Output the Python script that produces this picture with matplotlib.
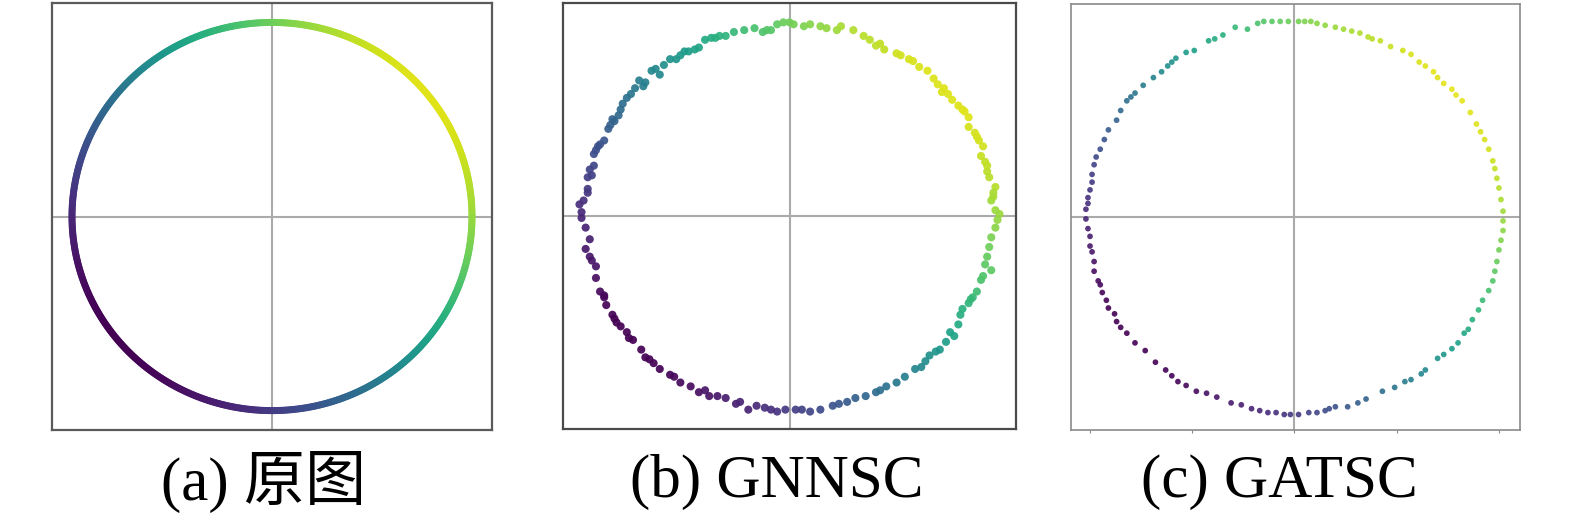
import numpy as np
import matplotlib
matplotlib.use("Agg")
import matplotlib.pyplot as plt

# ---------------- data ----------------
panel_labels = ["(a) 原图", "(b) GNNSC", "(c) GATSC"]

# (a) original data: points on the unit circle
orig_n_points = 720
orig_radius = 1.0

# (b) GNNSC embedding
gnnsc_x = [-1.01, -1.02, -1.00, -0.98, -0.98, -0.98, -0.96, -0.95, -0.95, -0.94,
           -0.92, -0.90, -0.88, -0.87, -0.85, -0.83, -0.82, -0.81, -0.77, -0.75,
           -0.71, -0.70, -0.67, -0.63, -0.61, -0.58, -0.55, -0.53, -0.49, -0.46,
           -0.44, -0.41, -0.38, -0.36, -0.31, -0.27, -0.22, -0.17, -0.13, -0.11,
           -0.06, -0.03, 0.00, 0.02, 0.07, 0.15, 0.18, 0.23, 0.25, 0.31,
           0.36, 0.39, 0.42, 0.46, 0.52, 0.54, 0.58, 0.63, 0.67, 0.70,
           0.72, 0.74, 0.77, 0.79, 0.82, 0.85, 0.87, 0.87, 0.90, 0.92,
           0.94, 0.93, 0.95, 0.96, 0.97, 1.00, 0.99, 0.98, 1.00, 1.02,
           -1.01, -0.99, -0.97, -0.99, -0.97, -0.94, -0.94, -0.92, -0.90, -0.89,
           -0.86, -0.84, -0.82, -0.79, -0.76, -0.72, -0.70, -0.66, -0.63, -0.58,
           -0.53, -0.48, -0.44, -0.39, -0.35, -0.31, -0.26, -0.20, -0.16, -0.12,
           -0.06, -0.02, 0.03, 0.10, 0.15, 0.21, 0.28, 0.32, 0.37, 0.42,
           0.47, 0.52, 0.56, 0.61, 0.66, 0.68, 0.73, 0.76, 0.78, 0.82,
           0.83, 0.84, 0.87, 0.89, 0.91, 0.93, 0.94, 0.98, 0.96, 0.97,
           0.98, 1.00, 1.01,
           -0.97, -0.93, -0.86, -0.79, -0.73, -0.65, -0.51, -0.34, -0.09, 0.10,
           0.44, 0.60, 0.75, 0.84, 0.91, 0.96, 0.99, 0.95, 0.88, 0.80,
           0.71, 0.64, 0.44, 0.24, 0.06, -0.09, -0.24, -0.41, -0.56, -0.68,
           -0.78, -0.85, -0.90, -0.96]
gnnsc_y = [0.02, 0.06, 0.08, 0.12, 0.14, 0.20, 0.21, 0.26, 0.32, 0.34,
           0.37, 0.39, 0.45, 0.47, 0.49, 0.52, 0.55, 0.58, 0.63, 0.66,
           0.67, 0.69, 0.75, 0.73, 0.78, 0.81, 0.81, 0.83, 0.85, 0.86,
           0.87, 0.91, 0.92, 0.92, 0.93, 0.95, 0.96, 0.97, 0.95, 0.96,
           0.99, 1.00, 1.00, 0.99, 0.98, 0.98, 0.97, 0.96, 0.98, 0.96,
           0.93, 0.91, 0.88, 0.86, 0.84, 0.83, 0.81, 0.77, 0.75, 0.71,
           0.68, 0.64, 0.63, 0.60, 0.57, 0.54, 0.51, 0.46, 0.43, 0.39,
           0.36, 0.31, 0.28, 0.23, 0.20, 0.15, 0.12, 0.08, 0.03, 0.01,
           -0.01, -0.06, -0.12, -0.17, -0.21, -0.26, -0.32, -0.39, -0.42, -0.46,
           -0.51, -0.55, -0.57, -0.60, -0.64, -0.69, -0.73, -0.76, -0.79, -0.82,
           -0.86, -0.88, -0.91, -0.93, -0.93, -0.94, -0.97, -1.00, -0.98, -0.99,
           -1.01, -1.00, -1.00, -1.01, -1.00, -0.98, -0.96, -0.94, -0.93, -0.91,
           -0.88, -0.86, -0.83, -0.79, -0.75, -0.72, -0.69, -0.65, -0.60, -0.56,
           -0.51, -0.48, -0.45, -0.42, -0.39, -0.33, -0.31, -0.28, -0.21, -0.16,
           -0.11, -0.06, -0.02,
           0.24, 0.36, 0.50, 0.61, 0.70, 0.76, 0.85, 0.93, 0.96, 0.99,
           0.89, 0.80, 0.66, 0.55, 0.41, 0.26, 0.10, -0.25, -0.43, -0.62,
           -0.70, -0.78, -0.90, -0.97, -1.00, -1.00, -0.96, -0.90, -0.83, -0.74,
           -0.63, -0.53, -0.41, -0.23]

# (c) GATSC embedding
gatsc_x = [-1.02, -1.01, -1.01, -1.00, -0.99, -0.99, -0.98, -0.97, -0.95, -0.93,
           -0.91, -0.87, -0.85, -0.82, -0.80, -0.78, -0.74, -0.69, -0.65, -0.62,
           -0.60, -0.58, -0.53, -0.49, -0.42, -0.39, -0.35, -0.29, -0.23, -0.18,
           -0.15, -0.11, -0.07, -0.03, 0.02, 0.05, 0.08, 0.11, 0.15, 0.20,
           0.24, 0.28, 0.32, 0.36, 0.38, 0.42, 0.47, 0.53, 0.57, 0.61,
           0.64, 0.68, 0.70, 0.73, 0.77, 0.79, 0.82, 0.86, 0.89, 0.91,
           0.93, 0.95, 0.97, 0.98, 0.99, 1.00, 1.01, 1.02,
           -1.02, -1.01, -1.00, -1.00, -0.99, -0.98, -0.98, -0.96, -0.95, -0.94,
           -0.92, -0.91, -0.88, -0.87, -0.85, -0.82, -0.78, -0.73, -0.68, -0.63,
           -0.60, -0.57, -0.53, -0.48, -0.43, -0.38, -0.31, -0.26, -0.21, -0.17,
           -0.13, -0.09, -0.05, -0.02, 0.02, 0.07, 0.11, 0.15, 0.17, 0.20,
           0.26, 0.31, 0.35, 0.43, 0.49, 0.54, 0.57, 0.62, 0.64, 0.70,
           0.73, 0.77, 0.80, 0.83, 0.85, 0.87, 0.90, 0.92, 0.95, 0.97,
           0.98, 0.99, 1.00, 1.01, 1.02, 1.02]
gatsc_y = [0.04, 0.07, 0.10, 0.14, 0.18, 0.22, 0.27, 0.31, 0.35, 0.40,
           0.45, 0.50, 0.55, 0.60, 0.62, 0.64, 0.68, 0.72, 0.75, 0.78,
           0.80, 0.82, 0.85, 0.86, 0.91, 0.92, 0.94, 0.98, 0.97, 1.00,
           1.01, 1.01, 1.01, 1.01, 1.01, 1.01, 1.01, 1.00, 0.99, 0.98,
           0.97, 0.96, 0.95, 0.93, 0.92, 0.91, 0.88, 0.86, 0.84, 0.80,
           0.78, 0.75, 0.72, 0.69, 0.66, 0.63, 0.60, 0.54, 0.48, 0.44,
           0.40, 0.35, 0.29, 0.25, 0.20, 0.15, 0.09, 0.03,
           -0.01, -0.06, -0.10, -0.15, -0.18, -0.23, -0.28, -0.33, -0.35, -0.39,
           -0.43, -0.47, -0.50, -0.54, -0.57, -0.60, -0.65, -0.69, -0.75, -0.79,
           -0.82, -0.85, -0.87, -0.90, -0.91, -0.93, -0.96, -0.97, -0.99, -1.00,
           -1.01, -1.01, -1.02, -1.02, -1.02, -1.01, -1.01, -1.00, -0.99, -0.98,
           -0.98, -0.96, -0.94, -0.90, -0.88, -0.85, -0.84, -0.81, -0.79, -0.73,
           -0.71, -0.68, -0.65, -0.60, -0.58, -0.53, -0.48, -0.43, -0.38, -0.33,
           -0.28, -0.23, -0.17, -0.12, -0.07, -0.02]

gatsc_xticks = [-1.0, -0.5, 0.0, 0.5, 1.0]

# colour direction (points are coloured by their projection on this direction)
colour_dir_deg = 40.0

# ---------------- figure ----------------
fig = plt.figure(figsize=(15.75, 5.23), dpi=100)
cmap = plt.get_cmap("viridis")
vmin, vmax = -1.0, 1.1
phi = np.deg2rad(colour_dir_deg)


def colour_value(x, y):
    return x * np.cos(phi) + y * np.sin(phi)


axes_rects = [
    [52 / 1575, 1 - 430 / 523, 440 / 1575, 427 / 523],
    [563 / 1575, 1 - 429 / 523, 453 / 1575, 426 / 523],
    [1071 / 1575, 1 - 430 / 523, 449 / 1575, 426 / 523],
]
axs = [fig.add_axes(r) for r in axes_rects]

# (a)
theta = np.linspace(0, 2 * np.pi, orig_n_points, endpoint=False)
ax_x = orig_radius * np.cos(theta)
ax_y = orig_radius * np.sin(theta)
axs[0].scatter(ax_x, ax_y, c=colour_value(ax_x, ax_y), cmap=cmap, vmin=vmin,
               vmax=vmax, s=26, linewidths=0, zorder=3)

# (b)
bx = np.array(gnnsc_x); by = np.array(gnnsc_y)
axs[1].scatter(bx, by, c=colour_value(bx, by), cmap=cmap, vmin=vmin, vmax=vmax,
               s=34, linewidths=0, alpha=0.92, zorder=3)

# (c)
cx = np.array(gatsc_x); cy = np.array(gatsc_y)
axs[2].scatter(cx, cy, c=colour_value(cx, cy), cmap=cmap, vmin=vmin, vmax=vmax,
               s=17, linewidths=0, alpha=0.9, zorder=3)

xlims = [(-1.1, 1.1), (-1.1, 1.1), (-1.093, 1.103)]
spine_cols = ["#5a5a5a", "#4a4a4a", "#8a8a8a"]
spine_lws = [1.6, 1.6, 1.2]
for i, ax in enumerate(axs):
    ax.set_xlim(*xlims[i])
    ax.set_ylim(-1.1, 1.1)
    ax.axhline(0, color="#aaaaaa", lw=1.5, zorder=1)
    ax.axvline(0, color="#aaaaaa", lw=1.5, zorder=1)
    for sp in ax.spines.values():
        sp.set_color(spine_cols[i])
        sp.set_linewidth(spine_lws[i])
    ax.set_yticks([])
    if i == 2:
        ax.set_xticks(gatsc_xticks)
        ax.set_xticklabels([])
        ax.tick_params(axis="x", length=2.5, width=0.8, color="#888888")
    else:
        ax.set_xticks([])

label_x = [264 / 1575, 777 / 1575, 1279 / 1575]
for lx, lab in zip(label_x, panel_labels):
    fig.text(lx, 1 - 482 / 523, lab, ha="center", va="center", fontsize=44,
             family=["Liberation Serif", "Noto Sans CJK SC"], color="#000000")

fig.savefig("out.png", dpi=100)
